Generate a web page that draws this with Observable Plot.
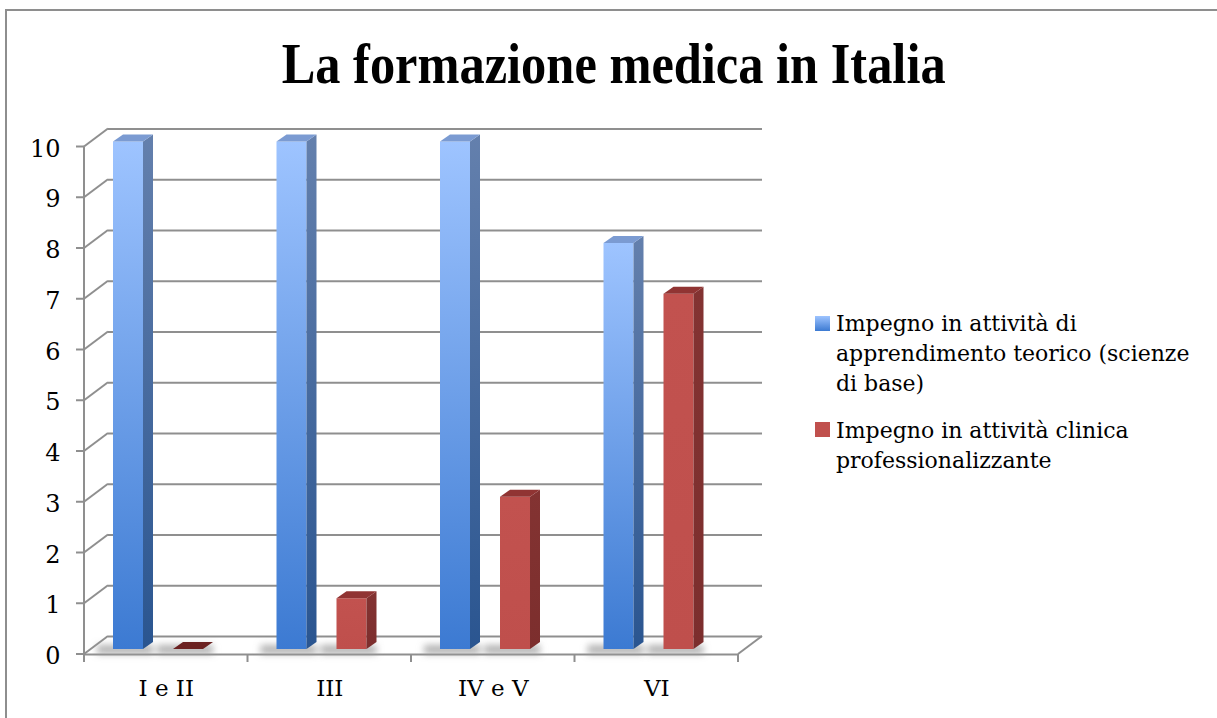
<!DOCTYPE html>
<html>
<head>
<meta charset="utf-8">
<script src="https://cdn.jsdelivr.net/npm/d3@7"></script>
<script src="https://cdn.jsdelivr.net/npm/@observablehq/plot@0.6"></script>
<style>
  html, body { margin: 0; padding: 0; background: #fff; }
  #page { position: relative; width: 1217px; height: 718px; overflow: hidden; font-family: "DejaVu Serif", serif; color: #000; }
  #frame { position: absolute; left: 5px; top: 9px; width: 1300px; height: 800px; border: 2px solid #8e8e8e; pointer-events: none; }
  #title { position: absolute; left: 0; width: 1228px; top: 33px; text-align: center; line-height: 62px; white-space: nowrap; }
  #title span { display: inline-block; font-family: "Liberation Serif", serif; font-weight: bold; font-size: 56px; transform-origin: 50% 50%; }
  #chart { position: absolute; left: 0; top: 100px; }
  #legend { position: absolute; left: 815px; top: 309px; font-size: 22px; line-height: 30px; white-space: nowrap; }
  .item { position: relative; padding-left: 21px; }
  .item + .item { margin-top: 16.7px; }
  .swatch { position: absolute; left: 0; top: 6.5px; width: 15px; height: 15px; }
</style>
</head>
<body>
<div id="page">
  <div id="title"><span>La formazione medica in Italia</span></div>
  <div id="chart"></div>
  <div id="legend"></div>
  <div id="frame"></div>
</div>
<script>
// ---- data ----
const categories = ["I e II", "III", "IV e V", "VI"];
const seriesNames = [
  ["Impegno in attività di", "apprendimento teorico (scienze", "di base)"],
  ["Impegno in attività clinica", "professionalizzante"]
];
const teorico = [10, 10, 10, 8];
const clinica = [0, 1, 3, 7];
const yTicks = [0, 1, 2, 3, 4, 5, 6, 7, 8, 9, 10];

// ---- styles ----
const GRID = "#8f8f8f";
const WALL_DX = 24, WALL_DY = 18;
const BAR_W = 30, BAR_OFF = [29, 89], BAR_LIFT = 5, SIDE_DX = 10, SIDE_DY = 7;
const TOP_FILL = ["#7b9bd2", "#903433"], TOP_FILL_ZERO = "#6b2120";
const FRONT_FILL = ["url(#gBlueFront)", "url(#gRedFront)"];
const SIDE_FILL = ["url(#gBlueSide)", "url(#gRedSide)"];
const W = 790, H = 618, ML = 84, MR = 52, MT = 46.5, MB = 64;
const bandW = (W - ML - MR) / categories.length;

const series = [teorico, clinica];
const rows = categories.flatMap((cat, i) => series.map((vals, s) => ({cat, s, value: vals[i]})));

function defsMark() {
  const g = d3.create("svg:g");
  g.html(`<defs>
    <linearGradient id="gBlueFront" x1="0" y1="0" x2="0" y2="1">
      <stop offset="0" stop-color="#9ec4ff"/><stop offset="1" stop-color="#3c7ad2"/></linearGradient>
    <linearGradient id="gBlueSide" x1="0" y1="0" x2="0" y2="1">
      <stop offset="0" stop-color="#6480ad"/><stop offset="1" stop-color="#2a5590"/></linearGradient>
    <linearGradient id="gRedFront" x1="0" y1="0" x2="0" y2="1">
      <stop offset="0" stop-color="#c2524f"/><stop offset="1" stop-color="#bf4f4c"/></linearGradient>
    <linearGradient id="gRedSide" x1="0" y1="0" x2="0" y2="1">
      <stop offset="0" stop-color="#833332"/><stop offset="1" stop-color="#7c2e2d"/></linearGradient>
    <filter id="fShadow" x="-50%" y="-200%" width="200%" height="500%">
      <feGaussianBlur stdDeviation="3.5"/></filter>
  </defs>`);
  return g.node();
}

function wallsMark(index, scales, values, dims) {
  const {x, y} = scales;
  const L = dims.marginLeft, R = dims.width - dims.marginRight;
  const g = d3.create("svg:g").attr("stroke", GRID).attr("stroke-width", 2).attr("fill", "none");
  for (const t of yTicks) {
    g.append("line").attr("x1", L).attr("y1", y(t)).attr("x2", L + WALL_DX).attr("y2", y(t) - WALL_DY);
    g.append("line").attr("x1", L - 8).attr("y1", y(t)).attr("x2", L).attr("y2", y(t));
  }
  g.append("line").attr("x1", L).attr("y1", y(0)).attr("x2", L).attr("y2", y(yTicks[yTicks.length - 1]));
  g.append("line").attr("x1", R).attr("y1", y(0)).attr("x2", R + WALL_DX).attr("y2", y(0) - WALL_DY);
  const edges = categories.map(c => x(c)).concat([x(categories[categories.length - 1]) + x.bandwidth()]);
  for (const e of edges) g.append("line").attr("x1", e).attr("y1", y(0)).attr("x2", e).attr("y2", y(0) + 8);
  return g.node();
}

function shadowMark(index, scales) {
  const {x, y} = scales;
  const g = d3.create("svg:g").attr("filter", "url(#fShadow)");
  for (const d of rows) {
    const xl = x(d.cat) + BAR_OFF[d.s], yb = y(0) - BAR_LIFT;
    g.append("rect").attr("x", xl - 16).attr("y", yb - 4).attr("width", BAR_W + 26).attr("height", 9)
      .attr("fill", "#9a9a9a").attr("opacity", 0.75);
  }
  return g.node();
}

function barSidesMark(index, scales) {
  const {x, y} = scales;
  const g = d3.create("svg:g");
  for (const d of rows) {
    const xl = x(d.cat) + BAR_OFF[d.s], xr = xl + BAR_W;
    const yt = y(d.value) - BAR_LIFT, yb = y(0) - BAR_LIFT;
    if (d.value > 0) {
      g.append("path").attr("d", `M${xr},${yt}L${xr + SIDE_DX},${yt - SIDE_DY}L${xr + SIDE_DX},${yb - SIDE_DY}L${xr},${yb}Z`)
        .attr("fill", SIDE_FILL[d.s]);
    }
    g.append("path").attr("d", `M${xl},${yt}L${xl + SIDE_DX},${yt - SIDE_DY}L${xr + SIDE_DX},${yt - SIDE_DY}L${xr},${yt}Z`)
      .attr("fill", d.value > 0 ? TOP_FILL[d.s] : TOP_FILL_ZERO);
  }
  return g.node();
}

const chart = Plot.plot({
  width: W, height: H,
  marginLeft: ML, marginRight: MR, marginTop: MT, marginBottom: MB,
  style: {fontFamily: "DejaVu Serif", fontSize: "22px", background: "transparent", color: "#000", overflow: "visible"},
  x: {domain: categories, padding: 0, round: false, axis: null},
  y: {domain: [0, 10], axis: null},
  marks: [
    defsMark,
    Plot.ruleY(yTicks, {y: d => d, dx: WALL_DX, dy: -WALL_DY, stroke: GRID, strokeWidth: 2}),
    wallsMark,
    Plot.ruleY([0], {stroke: GRID, strokeWidth: 2}),
    Plot.text(yTicks, {y: d => d, text: d => String(d), frameAnchor: "left", textAnchor: "end",
      dx: -24, dy: 2, fontSize: 24, fill: "#000"}),
    Plot.text(categories, {x: d => d, text: d => d, frameAnchor: "bottom", lineAnchor: "top",
      dy: 25, fontSize: 23, fill: "#000"}),
    shadowMark,
    ...series.map((vals, s) => Plot.barY(rows.filter(r => r.s === s), {
      x: "cat", y: "value", fill: FRONT_FILL[s], dy: -BAR_LIFT,
      insetLeft: BAR_OFF[s], insetRight: bandW - BAR_OFF[s] - BAR_W
    })),
    barSidesMark
  ]
});
document.getElementById("chart").appendChild(chart);

// legend
const legendColors = ["linear-gradient(#9ec4ff, #3c7ad2)", "#c0504d"];
const legend = d3.select("#legend");
seriesNames.forEach((lines, s) => {
  const item = legend.append("div").attr("class", "item");
  item.append("span").attr("class", "swatch").style("background", legendColors[s]);
  item.append("span").html(lines.join("<br>"));
});

// title width fit
const span = document.querySelector("#title span");
const w = span.getBoundingClientRect().width;
span.style.transform = `scaleX(${664 / w})`;
</script>
</body>
</html>
